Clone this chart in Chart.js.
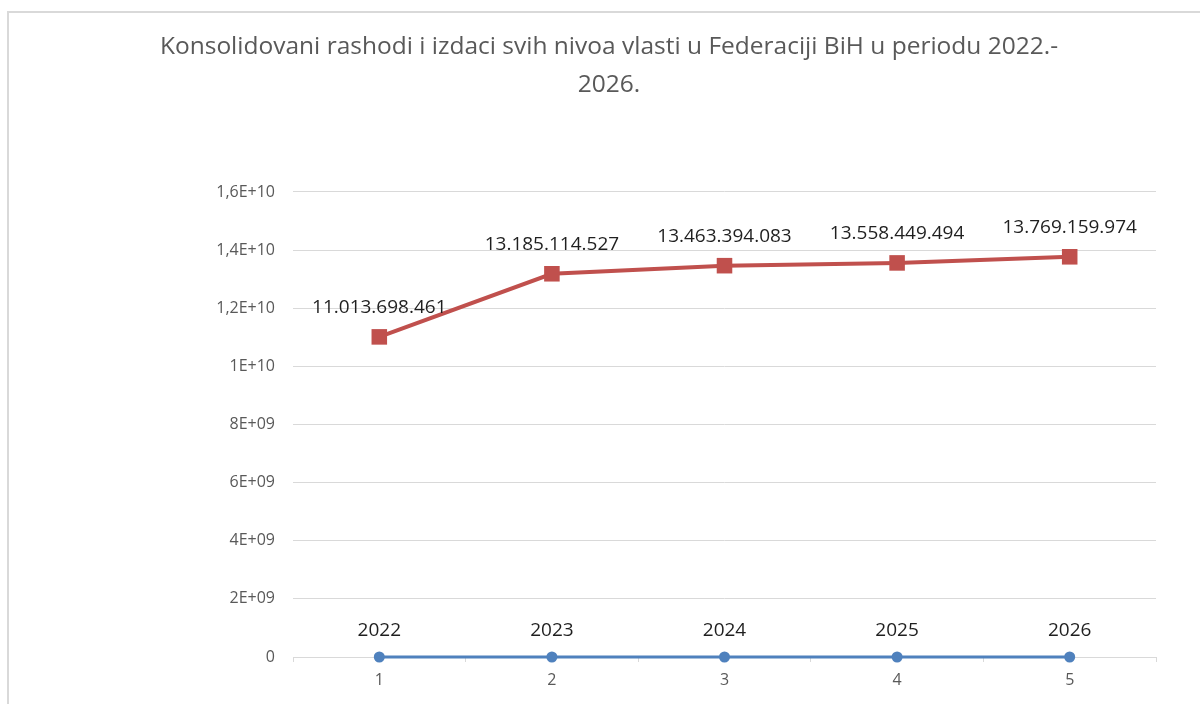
<!DOCTYPE html>
<html>
<head>
<meta charset="utf-8">
<script src="https://cdn.jsdelivr.net/npm/chart.js@4.4.1/dist/chart.umd.min.js"></script>
<style>
  body { margin: 0; background: #fff; overflow: hidden; }
  #wrap { position: absolute; left: 0; top: 0; width: 1200px; height: 704px; }
  #frame { position: absolute; left: 7px; top: 11px; width: 1300px; height: 800px; border: 2px solid #d9d9d9; }
</style>
</head>
<body>
<div id="frame"></div>
<div id="wrap"><canvas id="myChart" width="1200" height="704"></canvas></div>
<script>
// chart data
const categories = ['1', '2', '3', '4', '5'];
const yearSeries = [2022, 2023, 2024, 2025, 2026];
const spendingSeries = [11013698461, 13185114527, 13463394083, 13558449494, 13769159974];
const yTicks = [0, 2e9, 4e9, 6e9, 8e9, 1e10, 1.2e10, 1.4e10, 1.6e10];

Chart.defaults.font.family = "'Open Sans', sans-serif";

// Excel-like scientific format, e.g. 1,2E+10
function sciLabel(v) {
    if (v === 0) return '0';
    const exp = Math.floor(Math.log10(v) + 1e-9);
    let mant = Math.round(v / Math.pow(10, exp) * 10) / 10;
    const e = (exp < 10 ? '0' : '') + exp;
    return String(mant).replace('.', ',') + 'E+' + e;
}

function dotted(v) {
    return String(v).replace(/\B(?=(\d{3})+(?!\d))/g, '.');
}

// draws value labels above each point
const valueLabels = {
    id: 'valueLabels',
    afterDatasetsDraw(chart) {
        const ctx = chart.ctx;
        ctx.save();
        ctx.font = "19px 'Open Sans', sans-serif";
        ctx.fillStyle = '#1f1f1f';
        ctx.textAlign = 'center';
        ctx.textBaseline = 'middle';
        chart.data.datasets.forEach((ds, i) => {
            const meta = chart.getDatasetMeta(i);
            meta.data.forEach((pt, j) => {
                const txt = ds.labelFormat === 'dots' ? dotted(ds.data[j]) : String(ds.data[j]);
                ctx.fillText(txt, pt.x, pt.y - ds.labelOffset);
            });
        });
        ctx.restore();
    }
};

const data = {
    labels: categories,
    datasets: [{
        label: 'Godina',
        data: yearSeries,
        borderColor: '#4F81BD',
        backgroundColor: '#4F81BD',
        borderWidth: 3,
        pointStyle: 'circle',
        pointRadius: 5.5,
        pointBorderWidth: 0,
        clip: false,
        labelOffset: 26,
        labelFormat: 'plain'
    }, {
        label: 'Rashodi i izdaci',
        data: spendingSeries,
        borderColor: '#C0504D',
        backgroundColor: '#C0504D',
        borderWidth: 4,
        pointStyle: 'rect',
        pointRadius: 11,
        pointBorderWidth: 0,
        clip: false,
        labelOffset: 29,
        labelFormat: 'dots'
    }]
};

const config = {
    type: 'line',
    data: data,
    plugins: [valueLabels],
    options: {
        responsive: false,
        animation: false,
        layout: { padding: { left: 62, right: 44, top: 0, bottom: 0 } },
        plugins: {
            legend: { display: false },
            tooltip: { enabled: false },
            title: {
                display: true,
                text: ['Konsolidovani rashodi i izdaci svih nivoa vlasti u Federaciji BiH u periodu 2022.-', '2026.'],
                color: '#595959',
                font: { size: 24.5, weight: 'normal', lineHeight: 1.55 },
                padding: { top: 28, bottom: 88 }
            }
        },
        scales: {
            x: {
                offset: true,
                grid: { drawOnChartArea: false, drawTicks: true, tickLength: 5, color: '#d9d9d9', offset: true },
                border: { display: true, color: '#d9d9d9', width: 1 },
                ticks: { color: '#595959', font: { size: 16 }, padding: 9 },
                afterFit(scale) { scale.height = 47; }
            },
            y: {
                min: 0,
                max: 1.6e10,
                afterBuildTicks(scale) { scale.ticks = yTicks.map(v => ({ value: v })); },
                grid: { color: '#d9d9d9', lineWidth: 1, drawTicks: false },
                border: { display: false },
                ticks: { color: '#595959', font: { size: 16 }, padding: 18, callback: (v) => sciLabel(v) },
                afterFit(scale) { scale.width = 231; }
            }
        }
    }
};

const myChart = new Chart(document.getElementById('myChart'), config);
</script>
</body>
</html>
